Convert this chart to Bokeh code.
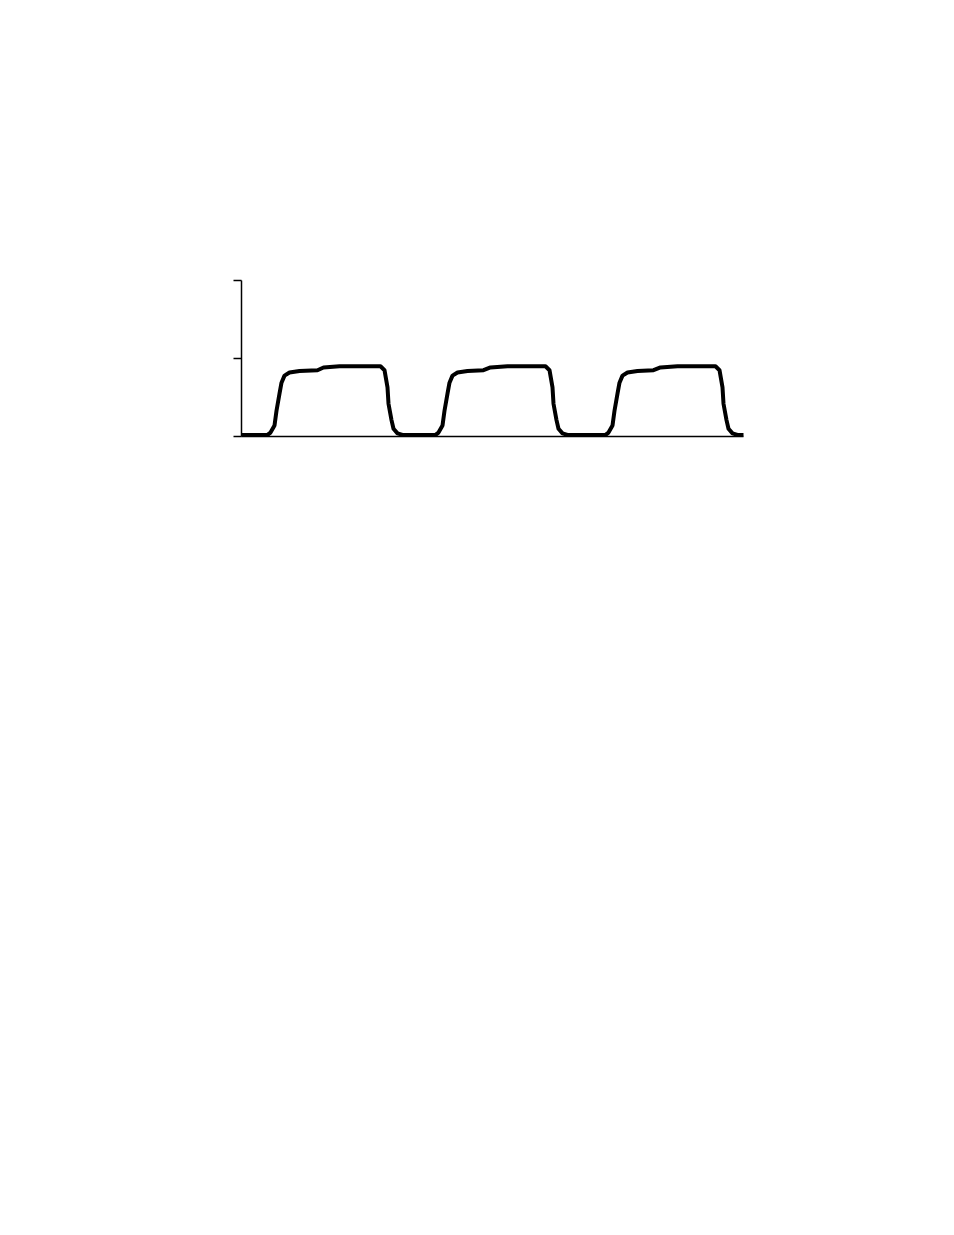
from bokeh.plotting import figure
from bokeh.models import Range1d, FixedTicker
from bokeh.embed import file_html
from bokeh.resources import INLINE

# time (arbitrary units) and signal level
time = [0, 26, 29, 33, 35, 38, 40, 43, 48, 58, 76, 82, 98, 139, 143, 146, 147, 150, 152, 156, 161,
        194, 197, 201, 203, 206, 208, 211, 216, 226, 242, 249, 266, 304, 308, 311, 312, 315, 317, 321, 326,
        364, 367, 371, 373, 376, 378, 381, 386, 396, 412, 419, 436, 474, 478, 481, 482, 485, 487, 491, 496, 502]
signal = [0.02, 0.02, 0.05, 0.14, 0.33, 0.55, 0.69, 0.78, 0.82, 0.84, 0.85, 0.885, 0.90, 0.90, 0.85, 0.63, 0.42, 0.21, 0.10, 0.04, 0.02,
          0.02, 0.05, 0.14, 0.33, 0.55, 0.69, 0.78, 0.82, 0.84, 0.85, 0.885, 0.90, 0.90, 0.85, 0.63, 0.42, 0.21, 0.10, 0.04, 0.02,
          0.02, 0.05, 0.14, 0.33, 0.55, 0.69, 0.78, 0.82, 0.84, 0.85, 0.885, 0.90, 0.90, 0.85, 0.63, 0.42, 0.21, 0.10, 0.04, 0.02, 0.02]
y_ticks = [0, 1, 2]
y_tick_labels = {0: "", 1: "", 2: ""}

p = figure(frame_width=502, frame_height=156,
           min_border_left=241, min_border_top=280, min_border_right=20, min_border_bottom=30,
           x_range=Range1d(0, 502), y_range=Range1d(0, 2),
           output_backend="svg", toolbar_location=None)
p.outline_line_color = None
p.xgrid.visible = False
p.ygrid.visible = False
p.background_fill_color = "white"

p.line(time, signal, line_color="black", line_width=4, line_join="round", line_cap="round")

xa = p.xaxis[0]
xa.ticker = FixedTicker(ticks=[])
xa.major_tick_line_color = None
xa.minor_tick_line_color = None
xa.axis_line_width = 1.5
xa.axis_line_color = "black"

ya = p.yaxis[0]
ya.ticker = FixedTicker(ticks=y_ticks)
ya.major_label_overrides = y_tick_labels
ya.minor_tick_line_color = None
ya.major_tick_in = 0
ya.major_tick_out = 8
ya.major_tick_line_width = 1.5
ya.axis_line_width = 1.5
ya.axis_line_color = "black"

open("out.html", "w").write(file_html(p, INLINE))
